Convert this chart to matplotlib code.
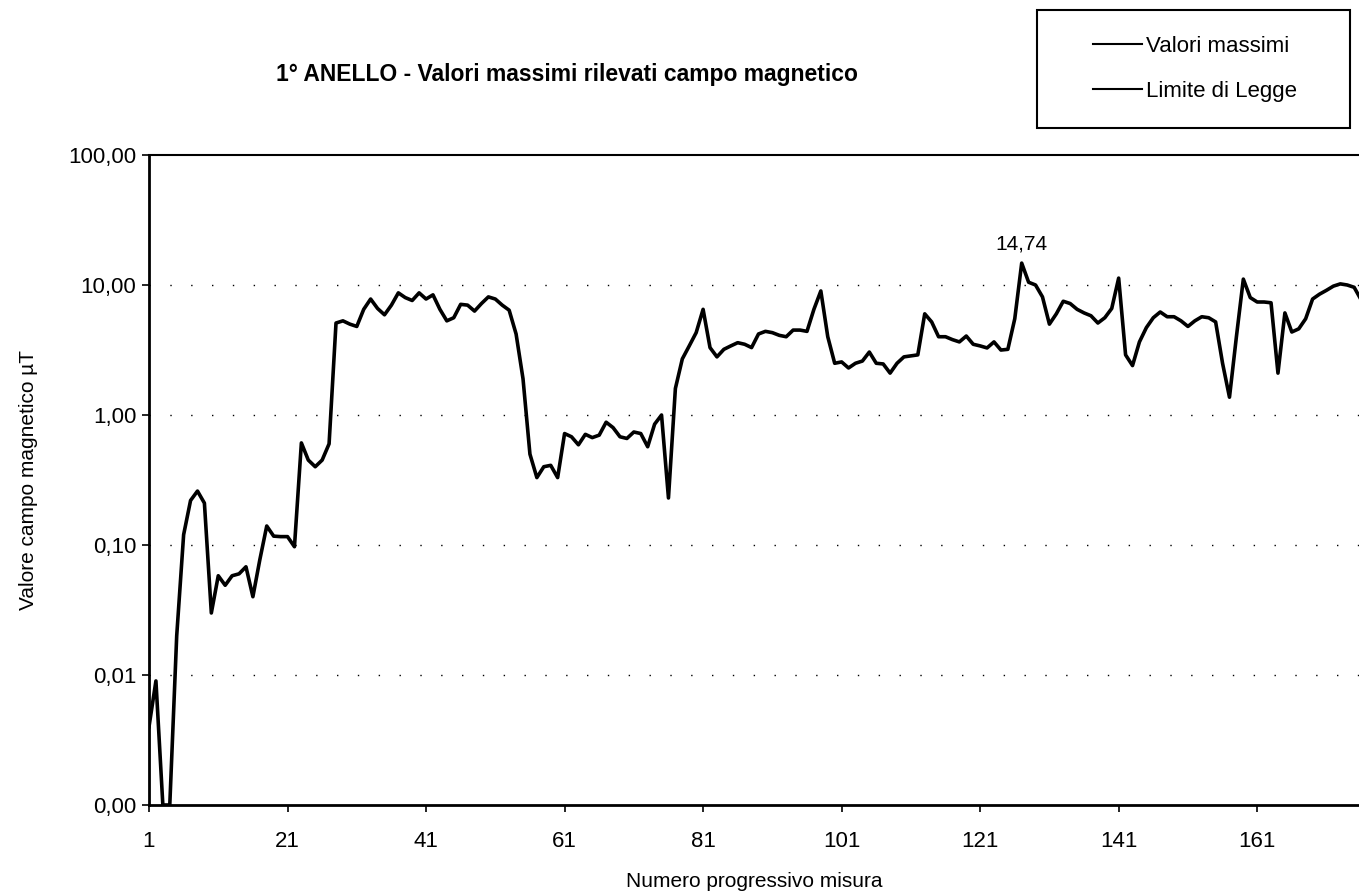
import numpy as np
import matplotlib.pyplot as plt
from matplotlib import font_manager
from matplotlib.lines import Line2D
from matplotlib.patches import Rectangle

names = {f.name for f in font_manager.fontManager.ttflist}
narrow = 'Liberation Sans Narrow' if 'Liberation Sans Narrow' in names else 'Liberation Sans'
plt.rcParams['font.family'] = [narrow, 'DejaVu Sans']

# misure progressive 1..176, valori massimi in microtesla
misura = np.arange(1, 177)
valori_massimi = [
    0.004, 0.009, 0.001, 0.001, 0.02, 0.12, 0.22, 0.26, 0.21, 0.03,
    0.058, 0.049, 0.058, 0.06, 0.068, 0.04, 0.077, 0.14, 0.117, 0.116,
    0.116, 0.097, 0.61, 0.45, 0.40, 0.45, 0.6, 5.1, 5.3, 5.0,
    4.8, 6.5, 7.8, 6.6, 5.9, 7.0, 8.7, 8.0, 7.6, 8.7,
    7.8, 8.4, 6.5, 5.3, 5.6, 7.1, 7.0, 6.3, 7.2, 8.1,
    7.8, 7.0, 6.4, 4.2, 1.9, 0.5, 0.33, 0.4, 0.41, 0.33,
    0.72, 0.68, 0.59, 0.71, 0.67, 0.7, 0.88, 0.8, 0.68, 0.66,
    0.74, 0.72, 0.57, 0.85, 1.0, 0.23, 1.6, 2.7, 3.4, 4.3,
    6.5, 3.3, 2.8, 3.2, 3.4, 3.6, 3.5, 3.3, 4.2, 4.4,
    4.3, 4.1, 4.0, 4.5, 4.5, 4.4, 6.5, 9.0, 4.0, 2.5,
    2.56, 2.3, 2.5, 2.6, 3.05, 2.5, 2.47, 2.1, 2.5, 2.8,
    2.85, 2.9, 6.0, 5.2, 4.0, 4.0, 3.8, 3.65, 4.05, 3.5,
    3.4, 3.28, 3.65, 3.16, 3.2, 5.5, 14.74, 10.5, 10.0, 8.1,
    5.0, 6.0, 7.5, 7.2, 6.5, 6.1, 5.8, 5.1, 5.6, 6.6,
    11.3, 2.9, 2.4, 3.65, 4.7, 5.6, 6.2, 5.7, 5.7, 5.3,
    4.8, 5.3, 5.7, 5.6, 5.2, 2.5, 1.37, 4.0, 11.1, 8.0,
    7.4, 7.4, 7.3, 2.1, 6.1, 4.35, 4.6, 5.5, 7.8, 8.5,
    9.1, 9.8, 10.2, 10.0, 9.6, 7.7,
]
limite_legge = [100.0] * len(misura)

y_ticks = [0.001, 0.01, 0.1, 1, 10, 100]
y_labels = ['0,00', '0,01', '0,10', '1,00', '10,00', '100,00']
x_ticks = [1, 21, 41, 61, 81, 101, 121, 141, 161]

fig = plt.figure(figsize=(13.59, 8.96), dpi=100)
ax = fig.add_axes([149 / 1359, 1 - 805 / 896, 1 - 149 / 1359, (805 - 155) / 896])

ax.plot(misura, valori_massimi, color='black', lw=2.6, solid_joinstyle='round')
ax.plot(misura, limite_legge, color='black', lw=1.5, clip_on=False)

ax.set_yscale('log')
ax.set_ylim(0.001, 100)
ax.set_xlim(1, 175.7)
ax.set_yticks(y_ticks)
ax.set_yticklabels(y_labels)
ax.minorticks_off()
ax.set_xticks(x_ticks)
ax.set_xticklabels([str(t) for t in x_ticks])
ax.tick_params(direction='out', length=5, width=1.2, labelsize=16, color='black')
ax.tick_params(axis='x', pad=14)
ax.tick_params(axis='y', pad=4)

for side in ['top', 'right']:
    ax.spines[side].set_visible(False)
for side in ['left', 'bottom']:
    ax.spines[side].set_linewidth(2)

# griglia orizzontale punteggiata rada
for v in y_ticks[1:-1]:
    ax.axhline(v, color='black', lw=1.0, ls=(0, (1, 14)), zorder=0)

# etichetta del valore massimo
i_max = int(np.argmax(valori_massimi))
ax.annotate(f'{valori_massimi[i_max]:.2f}'.replace('.', ','),
            (misura[i_max], valori_massimi[i_max]), xytext=(0, 7),
            textcoords='offset points', ha='center', va='bottom', fontsize=15)

ax.set_xlabel('Numero progressivo misura', fontsize=15, labelpad=14)
ax.set_ylabel('Valore campo magnetico µT', fontsize=15, labelpad=22)

fig.text(567 / 1359, 1 - 75 / 896, '1° ANELLO - Valori massimi rilevati campo magnetico',
         ha='center', va='center', fontsize=16.5, fontweight='bold')

# riquadro legenda
fig.patches.append(Rectangle((1037 / 1359, 1 - 128 / 896), (1350 - 1037) / 1359, 118 / 896,
                             transform=fig.transFigure, fill=False, ec='black', lw=1.5))
handles = [Line2D([], [], color='black', lw=1.5), Line2D([], [], color='black', lw=1.5)]
fig.legend(handles, ['Valori massimi', 'Limite di Legge'], loc='center',
           bbox_to_anchor=(1195 / 1359, 1 - 69 / 896), frameon=False, fontsize=16,
           handlelength=2.2, handletextpad=0.2, labelspacing=1.1)

fig.savefig('out.png', dpi=100, facecolor='white')
